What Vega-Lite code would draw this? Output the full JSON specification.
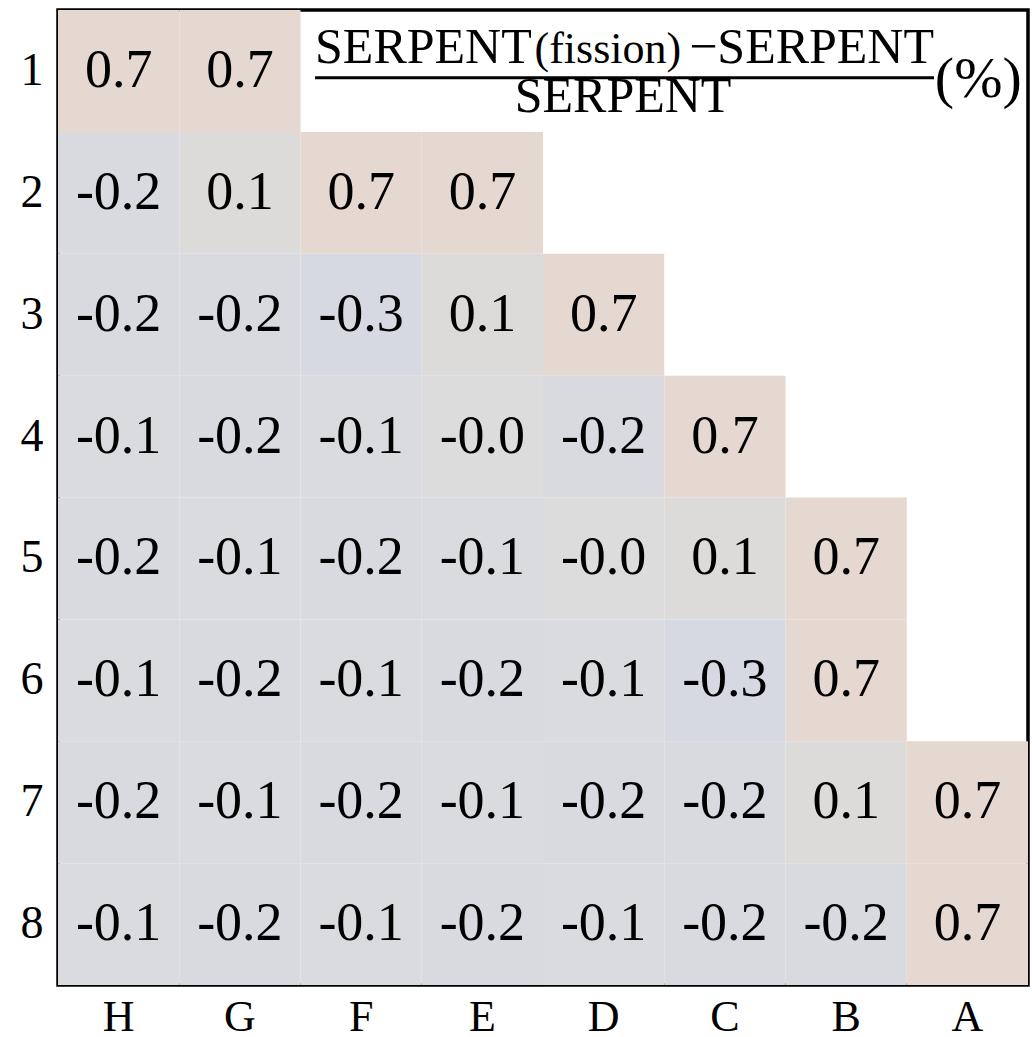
{
  "$schema": "https://vega.github.io/schema/vega-lite/v6.json",
  "width": 970,
  "height": 975,
  "autosize": {"type": "none"},
  "padding": {"left": 58, "top": 10, "right": 4, "bottom": 52},
  "background": "white",
  "config": {
    "view": {"stroke": "black", "strokeWidth": 3.5},
    "font": "Liberation Serif",
    "axis": {"labelFont": "Liberation Serif", "labelColor": "black", "ticks": false, "domain": false, "grid": false, "title": null}
  },
  "datasets": {
    "cells": [
      {"col": "H", "row": 1, "value": 0.7, "label": "0.7"},
      {"col": "G", "row": 1, "value": 0.7, "label": "0.7"},
      {"col": "H", "row": 2, "value": -0.2, "label": "-0.2"},
      {"col": "G", "row": 2, "value": 0.1, "label": "0.1"},
      {"col": "F", "row": 2, "value": 0.7, "label": "0.7"},
      {"col": "E", "row": 2, "value": 0.7, "label": "0.7"},
      {"col": "H", "row": 3, "value": -0.2, "label": "-0.2"},
      {"col": "G", "row": 3, "value": -0.2, "label": "-0.2"},
      {"col": "F", "row": 3, "value": -0.3, "label": "-0.3"},
      {"col": "E", "row": 3, "value": 0.1, "label": "0.1"},
      {"col": "D", "row": 3, "value": 0.7, "label": "0.7"},
      {"col": "H", "row": 4, "value": -0.1, "label": "-0.1"},
      {"col": "G", "row": 4, "value": -0.2, "label": "-0.2"},
      {"col": "F", "row": 4, "value": -0.1, "label": "-0.1"},
      {"col": "E", "row": 4, "value": -0.02, "label": "-0.0"},
      {"col": "D", "row": 4, "value": -0.2, "label": "-0.2"},
      {"col": "C", "row": 4, "value": 0.7, "label": "0.7"},
      {"col": "H", "row": 5, "value": -0.2, "label": "-0.2"},
      {"col": "G", "row": 5, "value": -0.1, "label": "-0.1"},
      {"col": "F", "row": 5, "value": -0.2, "label": "-0.2"},
      {"col": "E", "row": 5, "value": -0.1, "label": "-0.1"},
      {"col": "D", "row": 5, "value": -0.02, "label": "-0.0"},
      {"col": "C", "row": 5, "value": 0.1, "label": "0.1"},
      {"col": "B", "row": 5, "value": 0.7, "label": "0.7"},
      {"col": "H", "row": 6, "value": -0.1, "label": "-0.1"},
      {"col": "G", "row": 6, "value": -0.2, "label": "-0.2"},
      {"col": "F", "row": 6, "value": -0.1, "label": "-0.1"},
      {"col": "E", "row": 6, "value": -0.2, "label": "-0.2"},
      {"col": "D", "row": 6, "value": -0.1, "label": "-0.1"},
      {"col": "C", "row": 6, "value": -0.3, "label": "-0.3"},
      {"col": "B", "row": 6, "value": 0.7, "label": "0.7"},
      {"col": "H", "row": 7, "value": -0.2, "label": "-0.2"},
      {"col": "G", "row": 7, "value": -0.1, "label": "-0.1"},
      {"col": "F", "row": 7, "value": -0.2, "label": "-0.2"},
      {"col": "E", "row": 7, "value": -0.1, "label": "-0.1"},
      {"col": "D", "row": 7, "value": -0.2, "label": "-0.2"},
      {"col": "C", "row": 7, "value": -0.2, "label": "-0.2"},
      {"col": "B", "row": 7, "value": 0.1, "label": "0.1"},
      {"col": "A", "row": 7, "value": 0.7, "label": "0.7"},
      {"col": "H", "row": 8, "value": -0.1, "label": "-0.1"},
      {"col": "G", "row": 8, "value": -0.2, "label": "-0.2"},
      {"col": "F", "row": 8, "value": -0.1, "label": "-0.1"},
      {"col": "E", "row": 8, "value": -0.2, "label": "-0.2"},
      {"col": "D", "row": 8, "value": -0.1, "label": "-0.1"},
      {"col": "C", "row": 8, "value": -0.2, "label": "-0.2"},
      {"col": "B", "row": 8, "value": -0.2, "label": "-0.2"},
      {"col": "A", "row": 8, "value": 0.7, "label": "0.7"}
    ]
  },
  "layer": [
    {
      "data": {"name": "cells"},
      "mark": {"type": "rect"},
      "encoding": {
        "x": {"field": "col", "type": "ordinal", "sort": ["H", "G", "F", "E", "D", "C", "B", "A"], "scale": {"domain": ["H", "G", "F", "E", "D", "C", "B", "A"], "paddingInner": 0, "paddingOuter": 0}, "axis": {"labelFontSize": 44, "labelPadding": 10, "labelAngle": 0}},
        "y": {"field": "row", "type": "ordinal", "sort": "ascending", "scale": {"domain": [1, 2, 3, 4, 5, 6, 7, 8], "paddingInner": 0, "paddingOuter": 0}, "axis": {"labelFontSize": 46, "labelPadding": 15}},
        "fill": {"field": "value", "type": "quantitative", "scale": {"domain": [-0.3, 0, 0.7], "range": ["#d6d9e1", "#dcdcdc", "#e4d8d1"]}, "legend": null}
      }
    },
    {
      "data": {"name": "cells"},
      "mark": {"type": "text", "fontSize": 54, "baseline": "middle", "align": "center", "color": "black", "font": "Liberation Serif"},
      "encoding": {
        "x": {"field": "col", "type": "ordinal", "sort": ["H", "G", "F", "E", "D", "C", "B", "A"]},
        "y": {"field": "row", "type": "ordinal", "sort": "ascending"},
        "text": {"field": "label"}
      }
    },
    {
      "data": {"values": [{"col": "F", "row": 1, "t": "SERPENT"}]},
      "mark": {"type": "text", "fontSize": 50, "align": "left", "baseline": "alphabetic", "color": "black", "font": "Liberation Serif"},
      "encoding": {
        "x": {"field": "col", "type": "ordinal", "sort": ["H", "G", "F", "E", "D", "C", "B", "A"], "bandPosition": 0.12},
        "y": {"field": "row", "type": "ordinal", "sort": "ascending", "bandPosition": 0.435},
        "text": {"field": "t"}
      }
    },
    {
      "data": {"values": [{"col": "E", "row": 1, "t": "(fission)"}]},
      "mark": {"type": "text", "fontSize": 44, "align": "left", "baseline": "alphabetic", "color": "black", "font": "Liberation Serif"},
      "encoding": {
        "x": {"field": "col", "type": "ordinal", "sort": ["H", "G", "F", "E", "D", "C", "B", "A"], "bandPosition": 0.93},
        "y": {"field": "row", "type": "ordinal", "sort": "ascending", "bandPosition": 0.435},
        "text": {"field": "t"}
      }
    },
    {
      "data": {"values": [{"col": "A", "row": 1, "t": "−SERPENT"}]},
      "mark": {"type": "text", "fontSize": 50, "align": "right", "baseline": "alphabetic", "color": "black", "font": "Liberation Serif"},
      "encoding": {
        "x": {"field": "col", "type": "ordinal", "sort": ["H", "G", "F", "E", "D", "C", "B", "A"], "bandPosition": 0.225},
        "y": {"field": "row", "type": "ordinal", "sort": "ascending", "bandPosition": 0.435},
        "text": {"field": "t"}
      }
    },
    {
      "data": {"values": [{"c1": "F", "c2": "A", "row": 1}]},
      "mark": {"type": "rule", "strokeWidth": 3, "color": "black"},
      "encoding": {
        "x": {"field": "c1", "type": "ordinal", "sort": ["H", "G", "F", "E", "D", "C", "B", "A"], "bandPosition": 0.12},
        "x2": {"field": "c2", "bandPosition": 0.225},
        "y": {"field": "row", "type": "ordinal", "sort": "ascending", "bandPosition": 0.555}
      }
    },
    {
      "data": {"values": [{"col": "D", "row": 1, "t": "SERPENT"}]},
      "mark": {"type": "text", "fontSize": 50, "align": "center", "baseline": "alphabetic", "color": "black", "font": "Liberation Serif"},
      "encoding": {
        "x": {"field": "col", "type": "ordinal", "sort": ["H", "G", "F", "E", "D", "C", "B", "A"], "bandPosition": 0.66},
        "y": {"field": "row", "type": "ordinal", "sort": "ascending", "bandPosition": 0.837},
        "text": {"field": "t"}
      }
    },
    {
      "data": {"values": [{"col": "A", "row": 1, "t": "(%)"}]},
      "mark": {"type": "text", "fontSize": 58, "align": "center", "baseline": "alphabetic", "color": "black", "font": "Liberation Serif"},
      "encoding": {
        "x": {"field": "col", "type": "ordinal", "sort": ["H", "G", "F", "E", "D", "C", "B", "A"], "bandPosition": 0.59},
        "y": {"field": "row", "type": "ordinal", "sort": "ascending", "bandPosition": 0.71},
        "text": {"field": "t"}
      }
    }
  ]
}
